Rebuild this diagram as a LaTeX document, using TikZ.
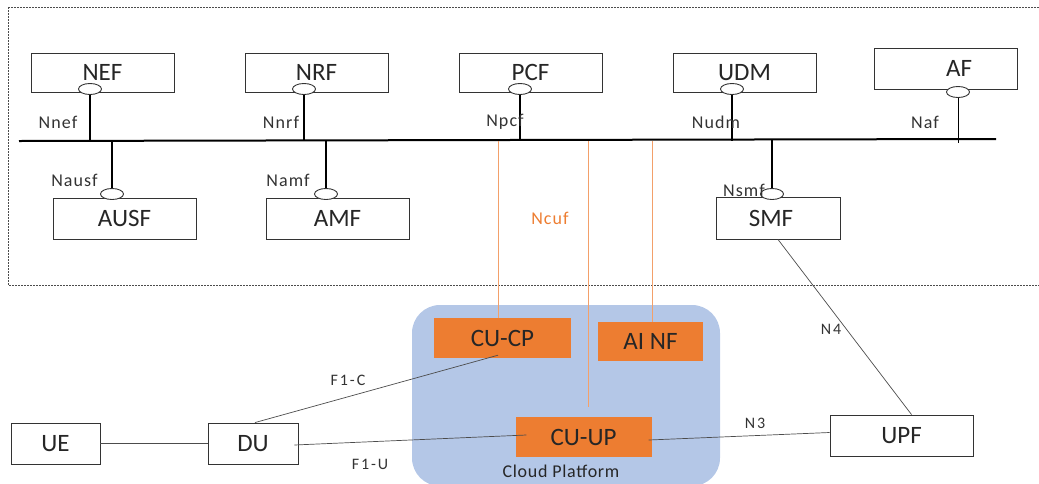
\documentclass[tikz,border=0pt]{standalone}
\usepackage{fontspec}
\setmainfont{Carlito}
\usetikzlibrary{shapes.geometric,positioning,calc}
\usepackage{xcolor}
\definecolor{cuorange}{HTML}{ED7D31}
\definecolor{cloudblue}{HTML}{B4C7E7}
\definecolor{linkorange}{HTML}{F3A06A}
\tikzstyle{nfbox} = [rectangle, draw=black!80, fill=white, line width=0.9pt, minimum width=143pt, minimum height=39pt, inner sep=0pt, font=\fontsize{25}{27}\selectfont, text=black!85]
\tikzstyle{cubox} = [rectangle, fill=cuorange, minimum height=39pt, inner sep=0pt, font=\fontsize{25}{27}\selectfont, text=black!85]
\tikzstyle{port} = [ellipse, draw=black!80, fill=white, line width=0.9pt, minimum width=23pt, minimum height=11pt, inner sep=0pt]
\tikzstyle{iflabel} = [font=\fontsize{18}{20}\selectfont\addfontfeatures{LetterSpace=6}, text=black!80, inner sep=0pt]
\tikzstyle{linklabel} = [font=\fontsize{16}{18}\selectfont\addfontfeatures{LetterSpace=12}, text=black!80, inner sep=0pt]

\begin{document}
\begin{tikzpicture}[
            x=1pt, y=-1pt,
            bus/.style={line width=2pt},
            stub/.style={line width=1.6pt},
            link/.style={line width=0.7pt, draw=black!70},
            ncuf/.style={line width=0.8pt, draw=linkorange},
            cloudbox/.style={rectangle, rounded corners=28pt, fill=cloudblue, minimum width=308pt, minimum height=181pt}
        ]
            \useasboundingbox (0,0) rectangle (1039,483);

            % Core frame
            \draw [black!70, line width=0.7pt, dash pattern=on 2pt off 1pt] (8,7) rectangle (1042,285);

            % Cloud
            \node (cloud) [cloudbox] at (566,395.5) {};
            \node (cloudlbl) [font=\fontsize{18}{20}\selectfont\addfontfeatures{LetterSpace=4}, text=black!85] at (561,471) {Cloud Platform};

            % Nodes
            \node (nef) [nfbox] at (102.5,72.5) {NEF};
            \node (nrf) [nfbox] at (316.5,72.5) {NRF};
            \node (pcf) [nfbox] at (530.5,72.5) {PCF};
            \node (udm) [nfbox] at (744.5,72.5) {UDM};
            \node (af) [nfbox, minimum height=41pt] at (946,68.5) {\hspace*{26pt}AF};
            \node (ausf) [nfbox, minimum height=41pt] at (124.5,218.5) {AUSF};
            \node (amf) [nfbox, minimum height=41pt] at (337.5,218.5) {AMF};
            \node (smf) [nfbox, minimum width=124pt, minimum height=42pt] at (778,218) {\hspace*{-14pt}SMF};

            \node (cucp) [cubox, minimum width=137pt, minimum height=40pt] at (502.5,338) {CU-CP};
            \node (ainf) [cubox, minimum width=105pt] at (650.5,341.5) {AI NF};
            \node (cuup) [cubox, minimum width=136pt, minimum height=40pt] at (583.5,437) {CU-UP};

            \node (ue) [nfbox, minimum width=89pt, minimum height=41pt] at (55.5,443.5) {UE};
            \node (du) [nfbox, minimum width=90pt, minimum height=41pt] at (253,443.5) {DU};
            \node (upf) [nfbox, minimum height=41pt] at (901.5,435.5) {UPF};

            % Service ports
            \node (nefport) [port] at (90,89) {};
            \node (nrfport) [port] at (304,89) {};
            \node (pcfport) [port] at (520,89) {};
            \node (udmport) [port] at (732,89) {};
            \node (afport) [port] at (958,92) {};
            \node (ausfport) [port] at (112,194) {};
            \node (amfport) [port] at (326,194) {};
            \node (smfport) [port] at (772,194) {};

            % Bus
            \coordinate (busL) at (19,141);
            \coordinate (busR) at (996,139);
            \draw [bus] (busL) -- (busR);

            \draw [stub] (nefport) -- (nefport |- busL);
            \draw [stub] (nrfport) -- (nrfport |- busL);
            \draw [stub] (pcfport) -- (pcfport |- busL);
            \draw [stub] (udmport) -- (udmport |- busL);
            \draw [line width=0.9pt] (afport) -- ($(afport |- busR)+(0,4)$);
            \draw [stub] (ausfport) -- (ausfport |- busL);
            \draw [stub] (amfport) -- (amfport |- busL);
            \draw [stub] (smfport) -- (smfport |- busR);

            % Interface labels
            \node (lnef) [iflabel] at (58,122) {Nnef};
            \node (lnrf) [iflabel] at (281,122) {Nnrf};
            \node (lpcf) [iflabel] at (505,122) {Npcf};
            \node (ludm) [iflabel] at (716,122) {Nudm};
            \node (laf) [iflabel] at (925,122) {Naf};
            \node (lausf) [iflabel] at (74.5,180) {Nausf};
            \node (lamf) [iflabel] at (288,180) {Namf};
            \node (lsmf) [iflabel] at (744,190) {Nsmf};

            % Ncuf
            \draw [ncuf] ([xshift=-4.5pt]cucp.north) -- ([xshift=-4.5pt]cucp.north |- busL);
            \draw [ncuf] ([xshift=4.5pt,yshift=10pt]cuup.north) -- ([xshift=4.5pt]cuup.north |- busL);
            \draw [ncuf] ([xshift=1.5pt]ainf.north) -- ([xshift=1.5pt]ainf.north |- busL);
            \node (lcuf) [iflabel, text=cuorange] at (550,218) {Ncuf};

            % Links
            \draw [link] (ue) -- (du);
            \draw [link] ([xshift=2pt]du.north) -- ([xshift=-4.5pt,yshift=3pt]cucp.south);
            \draw [link] ([xshift=-4pt,yshift=-1.5pt]du.east) -- ([xshift=11pt,yshift=2pt]cuup.west);
            \draw [link] ([xshift=-3pt,yshift=-3pt]cuup.east) -- ([yshift=3pt]upf.west);
            \draw [link] (smf.south) -- ([xshift=10pt]upf.north);

            \node (lf1c) [linklabel] at (348,380) {F1-C};
            \node (lf1u) [linklabel] at (370,464) {F1-U};
            \node (ln3) [linklabel] at (755,423) {N3};
            \node (ln4) [linklabel] at (831,329) {N4};
        \end{tikzpicture}
\end{document}
